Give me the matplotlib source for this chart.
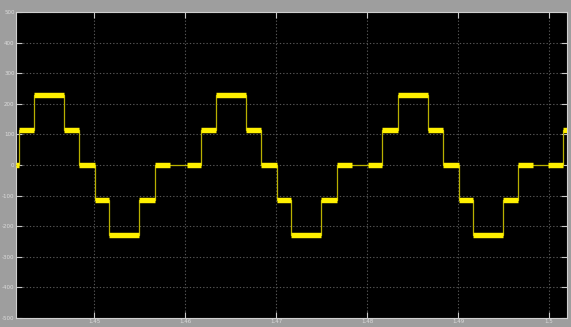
import numpy as np
import matplotlib
matplotlib.use("Agg")
import matplotlib.pyplot as plt

# Switching instants (s) of the stepped output voltage and the level held after each one
edge_times = [1.4418, 1.4434, 1.4467, 1.4484, 1.4501, 1.4517, 1.4550, 1.4567,
              1.4618, 1.4634, 1.4667, 1.4684, 1.4701, 1.4717, 1.4750, 1.4767,
              1.4817, 1.4834, 1.4867, 1.4884, 1.4901, 1.4917, 1.4950, 1.4966,
              1.5015]
levels_after = [115, 230, 115, 0, -115, -230, -115, 0,
                115, 230, 115, 0, -115, -230, -115, 0,
                115, 230, 115, 0, -115, -230, -115, 0,
                115]
start_level = 0

t_start, t_end = 1.44143, 1.50198
x_ticks = [1.45, 1.46, 1.47, 1.48, 1.49, 1.50]
x_tick_labels = ["1.45", "1.46", "1.47", "1.48", "1.49", "1.5"]
y_ticks = [-500, -400, -300, -200, -100, 0, 100, 200, 300, 400, 500]
y_tick_labels = ["-500", "-400", "-300", "-200", "-100", "0", "100", "200", "300", "400", "500"]

fig = plt.figure(figsize=(5.71, 3.27), dpi=100, facecolor="#9e9e9e")
ax = fig.add_axes([0.028, 0.0275, 0.965, 0.9358])
ax.set_facecolor("black")

# staircase built from the switching list
t = [t_start] + edge_times + [t_end]
v = [start_level] + levels_after
seg_start = t[:-1]
seg_end = t[1:]

# thin trace through every transition
ax.step(t, v + [v[-1]], where="post", color="#b8b000", lw=0.9, zorder=3)

# thick held levels; long zero intervals show a thin middle section
cap = 0.00162
for a, b, lev in zip(seg_start, seg_end, v):
    if b - a > 2.5 * cap:
        pieces = [(a, a + cap), (b - cap, b)]
    else:
        pieces = [(a, b)]
    for p, q in pieces:
        ax.plot([p, q], [lev, lev], color="#fff000", lw=3.9,
                solid_capstyle="butt", zorder=4)

ax.set_xlim(t_start, t_end)
ax.set_ylim(-500, 500)
ax.set_xticks(x_ticks)
ax.set_xticklabels(x_tick_labels)
ax.set_yticks(y_ticks)
ax.set_yticklabels(y_tick_labels)

ax.grid(True, color="#555555", linestyle=(0, (1.2, 1.8)), lw=0.8)
ax.tick_params(direction="in", length=4, width=0.8, color="#c8c8c8",
               labelsize=4, labelcolor="#dcdcdc", pad=1,
               top=True, right=True)
for s in ax.spines.values():
    s.set_color("#d0d0d0")
    s.set_linewidth(0.8)

fig.savefig("out.png", dpi=100, facecolor=fig.get_facecolor())
